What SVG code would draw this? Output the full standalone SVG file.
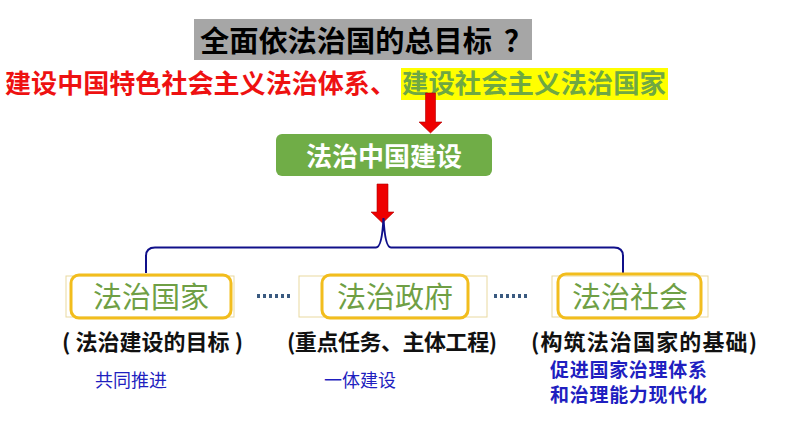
<svg xmlns="http://www.w3.org/2000/svg" width="794" height="447" viewBox="0 0 794 447">
<style>
.cjk{font-family:"Noto Sans CJK SC","Noto Sans",sans-serif}
.b{font-weight:bold}
.node{fill:none;stroke:#f2bd1d;stroke-width:3}
.frame{fill:none;stroke:#e9d9a0;stroke-width:1}
.nt{font-size:29px;fill:#6f9f45;text-anchor:middle}
.lab{font-size:22px;fill:#111;font-weight:bold}
.blue{fill:#1f1fc0}
.dots{stroke:#3a5a80;stroke-width:4;stroke-dasharray:3 3}
.arrow{fill:#ee0000;stroke:#b00000;stroke-width:0.6}
</style>
<rect x="0" y="0" width="794" height="447" fill="#fff"/>
<g id="title">
<rect x="194" y="19" width="338" height="41" fill="#a6a6a6"/>
<text class="cjk b" x="200" y="52" font-size="29" fill="#000"><tspan textLength="292" lengthAdjust="spacingAndGlyphs">全面依法治国的总目标</tspan><tspan x="504">？</tspan></text>
</g>
<g id="goal">
<text class="cjk b" x="5" y="93" font-size="26" fill="#ee1111" textLength="391" lengthAdjust="spacingAndGlyphs">建设中国特色社会主义法治体系、</text>
<rect x="401" y="68" width="267" height="32" fill="#ffff00"/>
<text class="cjk b" x="402" y="93" font-size="26" fill="#6fa843" textLength="264" lengthAdjust="spacingAndGlyphs">建设社会主义法治国家</text>
</g>
<g id="center">
<rect x="276" y="134" width="216" height="42" rx="6" fill="#70ad47"/>
<text class="cjk b" x="384" y="166" font-size="26" fill="#fff" text-anchor="middle">法治中国建设</text>
</g>
<g id="connectors">
<polygon class="arrow" points="425.5,93 435.5,93 435.5,122 442,122 430.5,133 419,122 425.5,122"/>
<polygon class="arrow" points="377,184 388,184 388,212 394,212 382.5,223 371,212 377,212"/>
<path d="M146,273 V256 Q146,247.5 155,247.5 H376 Q382,247.5 383.5,218 Q385,247.5 391,247.5 H614 Q623,247.5 623,256 V273" fill="none" stroke="#10108a" stroke-width="2"/>
<line class="dots" x1="257" y1="296" x2="293" y2="296"/>
<line class="dots" x1="494" y1="296" x2="530" y2="296"/>
</g>
<g id="n1">
<rect class="frame" x="66" y="276" width="168" height="41"/>
<rect class="node" x="71" y="275" width="160" height="43" rx="8"/>
<text class="cjk nt" x="151" y="308">法治国家</text>
<text class="cjk lab" x="62" y="350" textLength="181">( 法治建设的目标 )</text>
<text class="cjk blue" x="95" y="387" font-size="18">共同推进</text>
</g>
<g id="n2">
<rect class="frame" x="299" y="276" width="188" height="41"/>
<rect class="node" x="322" y="275" width="146" height="43" rx="8"/>
<text class="cjk nt" x="395" y="308">法治政府</text>
<text class="cjk lab" x="287" y="350" textLength="210">(重点任务、主体工程)</text>
<text class="cjk blue" x="324" y="387" font-size="18">一体建设</text>
</g>
<g id="n3">
<rect class="frame" x="552" y="276" width="156" height="41"/>
<rect class="node" x="558" y="274" width="143" height="44" rx="8"/>
<text class="cjk nt" x="630" y="308">法治社会</text>
<text class="cjk lab" x="531" y="350" textLength="226">(构筑法治国家的基础)</text>
<text class="cjk b blue" x="550" y="377" font-size="19" textLength="157">促进国家治理体系</text>
<text class="cjk b blue" x="550" y="402" font-size="19" textLength="157">和治理能力现代化</text>
</g>
</svg>
